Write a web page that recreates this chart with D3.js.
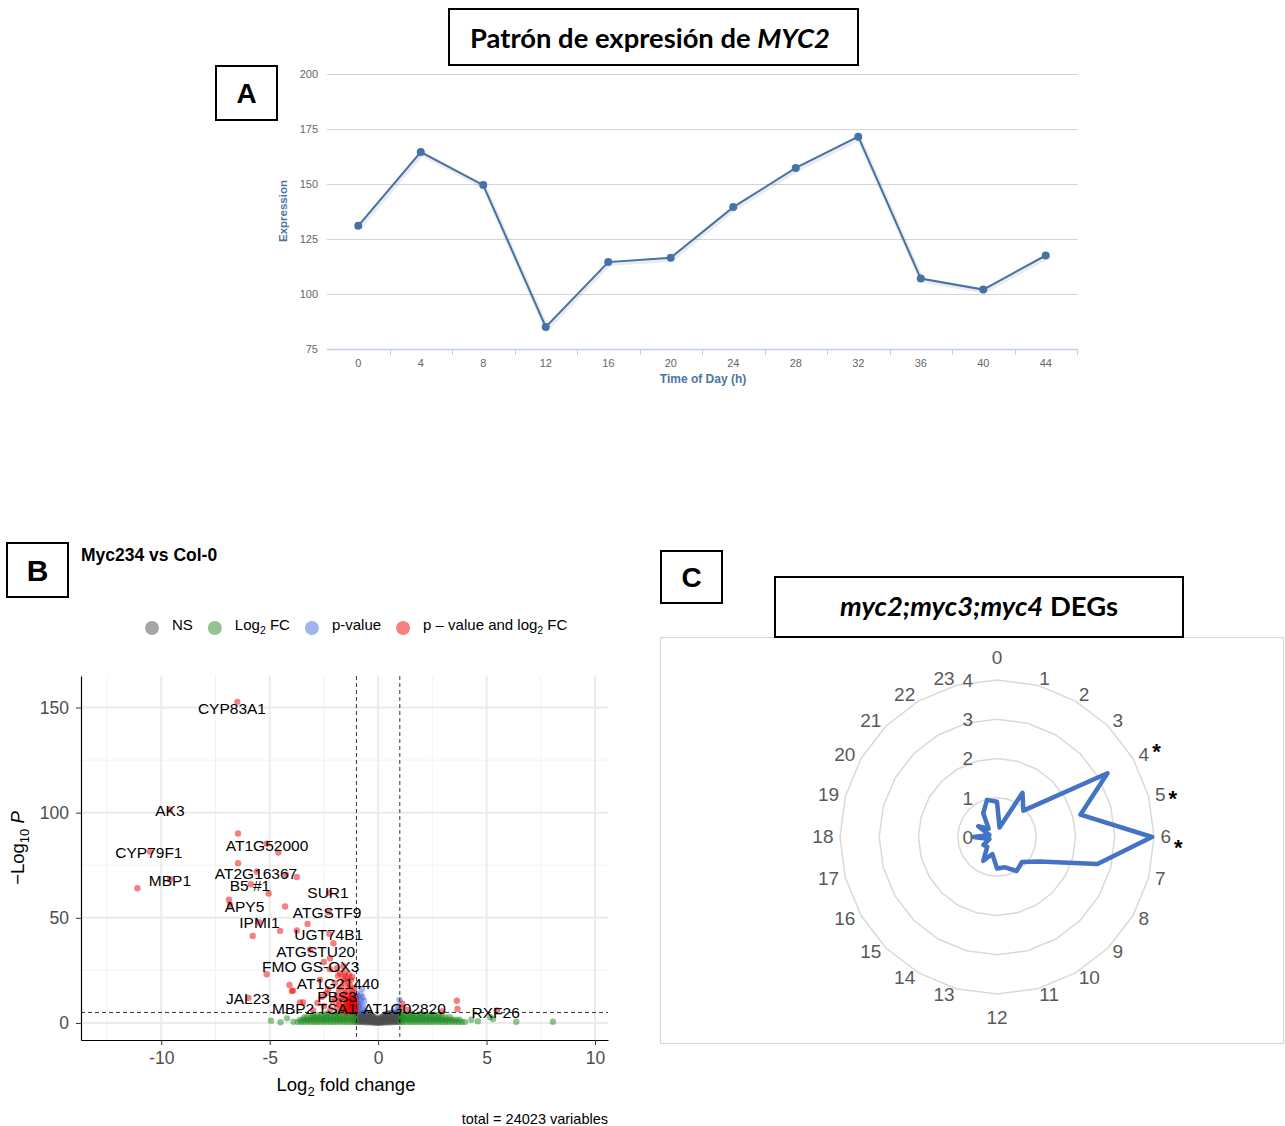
<!DOCTYPE html>
<html><head><meta charset="utf-8">
<script src="https://cdn.jsdelivr.net/npm/d3@7"></script>
<style>body{margin:0;background:#fff} svg{display:block}</style>
</head><body>
<script>
// ---------------- Panel A data ----------------
const hoursA = ["0","4","8","12","16","20","24","28","32","36","40","44"];
const expressionA = [131, 164.5, 149.5, 85, 114.5, 116.5, 139.5, 157.3, 171.5, 107, 102, 117.5];
const yTicksA = [75, 100, 125, 150, 175, 200];

// ---------------- Panel B data ----------------
const xTicksB = [-10, -5, 0, 5, 10];
const yTicksB = [0, 50, 100, 150];
const geneLabels = ["CYP83A1","AK3","CYP79F1","AT1G52000","MBP1","AT2G16367","B5 #1","SUR1","APY5","ATGSTF9","IPMI1","UGT74B1","ATGSTU20","FMO GS-OX3","AT1G21440","JAL23","PBS3","MBP2","TSA1","AT1G02820","RXF26"];
const geneLabelFC = [-6.74,-9.6,-10.57,-5.12,-9.6,-5.63,-5.91,-2.31,-6.16,-2.35,-5.47,-2.28,-2.88,-3.11,-1.85,-6.0,-1.89,-3.92,-1.89,1.22,5.42];
const geneLabelP  = [149.5,101,81,84.4,67.6,71.2,65.2,61.9,55.2,52.4,47.9,41.9,34,27.1,18.6,11.7,12.4,6.7,6.7,7.1,5.0];
const redPoints = [
[-6.49,152.7],[-9.6,101.4],[-6.46,90.1],[-5.14,85.2],[-4.6,81.1],[-10.52,81.6],[-6.46,76],[-5.6,72],
[-4.25,70.5],[-3.75,69.4],[-9.6,68.4],[-11.1,64.1],[-5.87,66],[-5.05,61.6],[-6.88,58.6],[-2.25,62],
[-6.83,56.2],[-4.29,55.4],[-2.29,52.7],[-5.48,47.8],[-3.25,47.1],[-5.78,41.4],[-4.52,43.8],[-3.75,44],
[-2.25,42.4],[-2.06,37.9],[-3.14,34.8],[-2.22,30.8],[-2.22,25.6],[-5.14,23.2],[-4.09,18.1],[-3.98,15.2],
[-2.68,20.5],[-5.98,11.9],[-3.6,9.7],[3.63,10.6],[3.66,6.7],[5.48,5.9],
[-1.75,23.5],[-1.55,24],[-1.35,23],[-1.2,22],[-1.6,21],[-1.4,20],[-2.0,19],[-1.3,18],[-1.7,17],
[-1.1,16.5],[-2.3,16],[-1.5,15],[-1.25,14],[-1.9,13.5],[-1.05,13],[-1.6,12.5],[-2.6,12.5],[-1.35,11.5],
[-1.15,11],[-1.8,10.5],[-2.1,10],[-1.45,10],[-1.1,9.5],[-1.25,9],[-1.6,8.5],[-1.05,8],[-1.35,7.5],
[-1.9,7.5],[-1.15,7],[-1.5,6.5],[-1.05,6],[-1.3,6],[-1.7,5.8],[-2.2,6.5],[-1.2,5.3],[-2.5,8],[-3.0,6],
[-2.8,9.5],[-3.46,9.7],[-3.92,15.4],[-2.4,14],[-1.9,26],[-1.6,27],[-2.5,29],[-1.45,8.2],[-1.2,12.2],
[1.12,9],[1.35,6.3],[2.95,5.5],[1.1,7.2],
[-1.1,5.5],[-1.2,6.5],[-1.05,7.2],[-1.3,8.5],[-1.15,9.8],[-1.4,9.2],[-1.1,10.5],[-1.25,11.8],[-1.5,11],
[-1.35,13],[-1.7,12],[-1.55,14],[-1.2,15.5],[-1.8,16],[-1.4,17],[-1.6,19],[-1.25,20.5],[-1.5,22],
[-1.85,22.5],[-1.1,6.4],[-1.6,7.2],[-1.8,8.8],[-2.0,11.5],[-1.05,11.8],[-1.25,7.8],[-1.4,5.6],[-1.15,8.6],
[-1.55,5.4],[-1.3,10.2],[-1.02,9.2]
];
const bluePoints = [
[-0.98,14],[-0.9,12.5],[-0.8,11],[-0.95,10],[-0.85,9],[-0.7,8],[-0.9,7.5],[-0.75,6.5],[-0.95,6],
[-0.6,5.5],[-0.85,5.3],[-0.8,13.5],[-0.75,16.2],[-0.65,10.5],[-0.92,8.4],[-0.72,12.2],[-0.98,11.6],
[0.99,11],[0.9,8],[0.95,6.5],[0.7,5.5]
];
const greenPoints = [
[-4.94,1.1],[-4.2,2.2],[-3.9,0.6],[-4.5,0.4],[5.17,2.7],[5.3,1.9],[6.37,0.6],[8.06,0.6],[4.3,1.5],[4.6,0.8],
[-2.35,4.6],[-1.9,4.8],[-1.45,4.7],[-1.1,4.8],[1.1,4.8],[1.5,4.6],[2.0,4.5]
];
const greenBandLevels = [0.5, 1.6, 2.7, 3.8];
const greenBandFC = [
[-3.7,-3.55,-3.4,-3.25,-3.1,-2.95,-2.8,-2.65,-2.5,-2.35,-2.2,-2.05,-1.9,-1.75,-1.6,-1.45,-1.3,-1.15,-1.05,
  1.05,1.15,1.3,1.45,1.6,1.75,1.9,2.05,2.2,2.35,2.5,2.65,2.8,2.95,3.1,3.25,3.4,3.55,3.7,3.85,4.0],
[-3.6,-3.45,-3.3,-3.15,-3.0,-2.85,-2.7,-2.55,-2.4,-2.25,-2.1,-1.95,-1.8,-1.65,-1.5,-1.35,-1.2,-1.05,
  1.05,1.2,1.35,1.5,1.65,1.8,1.95,2.1,2.25,2.4,2.55,2.7,2.85,3.0,3.15,3.3,3.45,3.6,3.75],
[-3.4,-3.25,-3.1,-2.95,-2.8,-2.65,-2.5,-2.35,-2.2,-2.05,-1.9,-1.75,-1.6,-1.45,-1.3,-1.15,-1.05,
  1.05,1.15,1.3,1.45,1.6,1.75,1.9,2.05,2.2,2.35,2.5,2.65,2.8,2.95,3.1,3.3],
[-3.0,-2.8,-2.6,-2.4,-2.2,-2.0,-1.8,-1.6,-1.4,-1.2,-1.05,
  1.05,1.2,1.4,1.6,1.8,2.0,2.2,2.4,2.6,2.8]
];
const grayPoints = [
[-0.95,0.5],[-0.95,2.0],[-0.95,3.5],[-0.95,4.8],[-0.85,0.5],[-0.85,2.0],[-0.85,3.5],[-0.85,4.8],
[-0.75,0.5],[-0.75,2.0],[-0.75,3.4],[-0.75,4.7],[-0.65,0.4],[-0.65,1.8],[-0.65,3.2],[-0.65,4.7],
[-0.55,0.4],[-0.55,1.7],[-0.55,3.0],[-0.55,4.6],[-0.45,0.3],[-0.45,1.5],[-0.45,2.8],[-0.45,4.4],
[-0.35,0.3],[-0.35,1.3],[-0.35,2.6],[-0.35,4.0],[-0.25,0.2],[-0.25,1.0],[-0.25,2.2],[-0.25,3.4],
[-0.15,0.2],[-0.15,0.8],[-0.15,1.8],[-0.15,2.8],[-0.05,0.1],[-0.05,1.0],[-0.05,2.2],[0.05,0.1],[0.05,1.0],[0.05,2.3],
[0.15,0.2],[0.15,0.9],[0.15,1.9],[0.15,2.9],[0.25,0.2],[0.25,1.0],[0.25,2.2],[0.25,3.5],
[0.35,0.3],[0.35,1.3],[0.35,2.6],[0.35,4.0],[0.45,0.3],[0.45,1.6],[0.45,2.8],[0.45,4.4],
[0.55,0.4],[0.55,1.7],[0.55,3.0],[0.55,4.6],[0.65,0.4],[0.65,1.9],[0.65,3.2],[0.65,4.7],
[0.75,0.5],[0.75,2.0],[0.75,3.4],[0.75,4.7],[0.85,0.5],[0.85,2.0],[0.85,3.5],[0.85,4.8],
[0.95,0.5],[0.95,2.0],[0.95,3.6],[0.95,4.9],
[-0.9,1.2],[-0.9,2.7],[-0.9,4.1],[-0.8,1.2],[-0.8,2.7],[-0.8,4.1],[-0.7,1.1],[-0.7,2.6],[-0.7,4.0],
[-0.6,1.0],[-0.6,2.4],[-0.6,3.9],[-0.5,0.9],[-0.5,2.1],[-0.5,3.7],[-0.4,0.8],[-0.4,1.8],[-0.4,3.3],
[-0.3,0.7],[-0.3,1.5],[-0.3,2.9],[-0.2,0.6],[-0.2,1.4],[-0.2,2.5],[-0.1,0.4],[-0.1,1.5],[0,0.3],[0,1.6],
[0.1,0.4],[0.1,1.5],[0.2,0.6],[0.2,1.4],[0.2,2.5],[0.3,0.7],[0.3,1.6],[0.3,2.9],[0.4,0.8],[0.4,1.9],[0.4,3.3],
[0.5,0.9],[0.5,2.1],[0.5,3.7],[0.6,1.0],[0.6,2.4],[0.6,3.9],[0.7,1.1],[0.7,2.6],[0.7,4.0],
[0.8,1.2],[0.8,2.7],[0.8,4.1],[0.9,1.2],[0.9,2.8],[0.9,4.2]
];
const fcCutoff = 1;
const pCutoff = 5;

// ---------------- Panel C data ----------------
const radarHours = ["0","1","2","3","4","5","6","7","8","9","10","11","12","13","14","15","16","17","18","19","20","21","22","23"];
const radarValues = [0.9, 0.25, 1.3, 0.95, 3.25, 2.2, 3.95, 2.65, 1.25, 0.9, 1.0, 0.8, 0.8, 0.45, 0.7, 0.35, 0.4, 0.2, 0.6, 0.2, 0.55, 0.3, 0.7, 0.98];
const radarRings = [0, 1, 2, 3, 4];
const starredHours = ["4","5","6"];

// =====================================================
const W = 1285, H = 1126;
const svg = d3.select("body").append("svg").attr("width", W).attr("height", H);
svg.append("rect").attr("width", W).attr("height", H).attr("fill", "#fff");

function fitWidth(sel, target) {
  const w = sel.node().getComputedTextLength();
  const x = +sel.attr("x");
  sel.attr("transform", `translate(${x},0) scale(${target / w},1) translate(${-x},0)`);
}
function panelBox(x, y, w, h, letter, size) {
  svg.append("rect").attr("x", x).attr("y", y).attr("width", w).attr("height", h)
    .attr("fill", "#fff").attr("stroke", "#000").attr("stroke-width", 2);
  svg.append("text").attr("x", x + w / 2).attr("y", y + h / 2).attr("dy", "0.36em")
    .attr("text-anchor", "middle").attr("font-family", "Liberation Sans, Arial, sans-serif")
    .attr("font-weight", "bold").attr("font-size", size).attr("fill", "#000").text(letter);
}

// ---------------- Panel A ----------------
{
  const g = svg.append("g");
  const fontA = "Liberation Sans, Arial, sans-serif";
  const x = d3.scaleBand().domain(hoursA).range([327, 1077]);
  const y = d3.scaleLinear().domain([75, 200]).range([349, 74]);
  g.selectAll(".gridA").data(yTicksA.slice(1)).join("line")
    .attr("x1", 327).attr("x2", 1078).attr("y1", d => Math.round(y(d)) + 0.5).attr("y2", d => Math.round(y(d)) + 0.5)
    .attr("stroke", "#d4d4d4").attr("stroke-width", 1);
  g.append("line").attr("x1", 327).attr("x2", 1078).attr("y1", 349.5).attr("y2", 349.5)
    .attr("stroke", "#C0D0E0").attr("stroke-width", 1.5);
  const bounds = hoursA.map(h => x(h)).concat([x.range()[1]]);
  g.selectAll(".tickA").data(bounds.slice(1)).join("line")
    .attr("x1", d => Math.round(d) + 0.5).attr("x2", d => Math.round(d) + 0.5).attr("y1", 349).attr("y2", 355)
    .attr("stroke", "#C0D0E0");
  g.selectAll(".xlA").data(hoursA).join("text")
    .attr("x", d => x(d) + x.bandwidth() / 2).attr("y", 363).attr("dy", "0.35em")
    .attr("text-anchor", "middle").attr("font-family", fontA).attr("font-size", 11).attr("fill", "#666").text(d => d);
  g.selectAll(".ylA").data(yTicksA).join("text")
    .attr("x", 318).attr("y", d => y(d)).attr("dy", "0.35em")
    .attr("text-anchor", "end").attr("font-family", fontA).attr("font-size", 11).attr("fill", "#666").text(d => d);
  g.append("text").attr("transform", "translate(287,211) rotate(-90)").attr("text-anchor", "middle")
    .attr("font-family", fontA).attr("font-weight", "bold").attr("font-size", 11.5).attr("fill", "#4d759e").text("Expression");
  g.append("text").attr("x", 703).attr("y", 379).attr("dy", "0.35em").attr("text-anchor", "middle")
    .attr("font-family", fontA).attr("font-weight", "bold").attr("font-size", 12).attr("fill", "#4d759e").text("Time of Day (h)");
  const pts = hoursA.map((h, i) => ({h, v: expressionA[i]}));
  const line = d3.line().x(d => x(d.h) + x.bandwidth() / 2).y(d => y(d.v));
  g.append("path").attr("d", line(pts)).attr("fill", "none").attr("stroke", "#000").attr("stroke-opacity", 0.08)
    .attr("stroke-width", 5).attr("transform", "translate(1,1.5)");
  g.append("path").attr("d", line(pts)).attr("fill", "none").attr("stroke", "#4572A7").attr("stroke-width", 2);
  g.selectAll(".mkA").data(pts).join("circle")
    .attr("cx", d => x(d.h) + x.bandwidth() / 2).attr("cy", d => y(d.v)).attr("r", 4).attr("fill", "#4572A7");

  svg.append("rect").attr("x", 449).attr("y", 9).attr("width", 409).attr("height", 56)
    .attr("fill", "#fff").attr("stroke", "#000").attr("stroke-width", 2);
  const t = svg.append("text").attr("x", 650).attr("y", 39).attr("dy", "0.35em").attr("text-anchor", "middle")
    .attr("font-family", "Lato, Open Sans, sans-serif").attr("font-weight", "bold").attr("font-size", 27).attr("fill", "#000");
  t.append("tspan").text("Patrón de expresión de ");
  t.append("tspan").attr("font-style", "italic").text("MYC2");
  fitWidth(t, 360);
  panelBox(216, 66, 61, 54, "A", 28);
}

// ---------------- Panel B ----------------
{
  const fontB = "Liberation Sans, Arial, Helvetica, sans-serif";
  const g = svg.append("g");
  const x = d3.scaleLinear().domain([-13.7, 10.6]).range([81, 608]);
  const y = d3.scaleLinear().domain([-8.1, 165]).range([1040, 676]);
  const minorX = [-12.5, -7.5, -2.5, 2.5, 7.5];
  const minorY = [25, 75, 125];
  g.selectAll(".mgx").data(minorX).join("line").attr("x1", d => x(d)).attr("x2", d => x(d)).attr("y1", 676).attr("y2", 1040)
    .attr("stroke", "#f2f2f2").attr("stroke-width", 1);
  g.selectAll(".mgy").data(minorY).join("line").attr("y1", d => y(d)).attr("y2", d => y(d)).attr("x1", 81).attr("x2", 608)
    .attr("stroke", "#f2f2f2").attr("stroke-width", 1);
  g.selectAll(".Mgx").data(xTicksB).join("line").attr("x1", d => x(d)).attr("x2", d => x(d)).attr("y1", 676).attr("y2", 1040)
    .attr("stroke", "#ebebeb").attr("stroke-width", 2);
  g.selectAll(".Mgy").data(yTicksB).join("line").attr("y1", d => y(d)).attr("y2", d => y(d)).attr("x1", 81).attr("x2", 608)
    .attr("stroke", "#ebebeb").attr("stroke-width", 2);

  const r = 3.2;
  const drawPts = (data, color) => g.append("g").selectAll("circle").data(data).join("circle")
    .attr("cx", d => x(d[0])).attr("cy", d => y(d[1])).attr("r", r).attr("fill", color).attr("fill-opacity", 0.5);
  const greenAll = greenPoints.concat(...greenBandFC.map((row, k) => row.map(v => [v, greenBandLevels[k]])));
  drawPts(grayPoints, "#4D4D4D");
  drawPts(greenAll, "#228B22");
  drawPts(bluePoints, "#4169E1");
  drawPts(redPoints, "#EE0000");

  [-fcCutoff, fcCutoff].forEach(v => g.append("line").attr("x1", x(v)).attr("x2", x(v)).attr("y1", 676).attr("y2", 1040)
    .attr("stroke", "#000").attr("stroke-width", 0.8).attr("stroke-dasharray", "4,3"));
  g.append("line").attr("x1", 81).attr("x2", 608).attr("y1", y(pCutoff)).attr("y2", y(pCutoff))
    .attr("stroke", "#000").attr("stroke-width", 0.8).attr("stroke-dasharray", "4,3");

  g.selectAll(".gl").data(geneLabels).join("text")
    .attr("x", (d, i) => x(geneLabelFC[i])).attr("y", (d, i) => y(geneLabelP[i])).attr("dy", "0.36em")
    .attr("text-anchor", "middle").attr("font-family", fontB).attr("font-size", 15.5).attr("fill", "#000").text(d => d);

  const ax = g.append("g").attr("transform", "translate(0,1040)")
    .call(d3.axisBottom(x).tickValues(xTicksB).tickFormat(d => String(d)).tickSize(5).tickSizeOuter(0).tickPadding(7));
  const ay = g.append("g").attr("transform", "translate(81,0)")
    .call(d3.axisLeft(y).tickValues(yTicksB).tickFormat(d => String(d)).tickSize(5).tickSizeOuter(0).tickPadding(7));
  [ax, ay].forEach(a => {
    a.select(".domain").attr("stroke", "#000").attr("stroke-width", 1.2);
    a.selectAll(".tick line").attr("stroke", "#333").attr("stroke-width", 1);
    a.selectAll(".tick text").attr("font-family", fontB).attr("font-size", 17.5).attr("fill", "#4d4d4d");
  });

  const xt = g.append("text").attr("x", 346).attr("y", 1091).attr("text-anchor", "middle")
    .attr("font-family", fontB).attr("font-size", 18.5).attr("fill", "#000");
  xt.append("tspan").text("Log");
  xt.append("tspan").attr("font-size", 13).attr("dy", 5).text("2");
  xt.append("tspan").attr("dy", -5).text(" fold change");
  const yt = g.append("text").attr("transform", "translate(24,848) rotate(-90)").attr("text-anchor", "middle")
    .attr("font-family", fontB).attr("font-size", 18.5).attr("fill", "#000");
  yt.append("tspan").text("\u2212Log");
  yt.append("tspan").attr("font-size", 13).attr("dy", 5).text("10");
  yt.append("tspan").attr("dy", -5).text(" ");
  yt.append("tspan").attr("font-style", "italic").text("P");

  g.append("text").attr("x", 608).attr("y", 1124).attr("text-anchor", "end").attr("font-family", fontB)
    .attr("font-size", 14.5).attr("fill", "#000").text("total = 24023 variables");

  svg.append("text").attr("x", 81).attr("y", 561).attr("font-family", fontB).attr("font-weight", "bold")
    .attr("font-size", 17.5).attr("fill", "#000").text("Myc234 vs Col-0");

  const legend = [
    {color: "#4D4D4D", parts: [["NS"]]},
    {color: "#228B22", parts: [["Log"], ["2", "sub"], [" FC"]]},
    {color: "#4169E1", parts: [["p-value"]]},
    {color: "#EE0000", parts: [["p \u2013 value and log"], ["2", "sub"], [" FC"]]}
  ];
  let lx = 152;
  legend.forEach(item => {
    g.append("circle").attr("cx", lx).attr("cy", 628).attr("r", 7).attr("fill", item.color).attr("fill-opacity", 0.5);
    const t = g.append("text").attr("x", lx + 20).attr("y", 634).attr("font-family", fontB).attr("font-size", 15).attr("fill", "#000");
    item.parts.forEach(p => {
      if (p[1] === "sub") t.append("tspan").attr("font-size", 10.5).attr("dy", 4).text(p[0]);
      else t.append("tspan").attr("dy", t.selectAll("tspan").size() ? -4 : 0).text(p[0]);
    });
    lx = lx + 20 + t.node().getComputedTextLength() + 22;
  });

  panelBox(7, 543, 61, 54, "B", 30);
}

// ---------------- Panel C ----------------
{
  const fontC = "Liberation Sans, Arial, sans-serif";
  svg.append("rect").attr("x", 660.5).attr("y", 637.5).attr("width", 623).attr("height", 406)
    .attr("fill", "#fff").attr("stroke", "#d9d9d9").attr("stroke-width", 1.2);
  const cx = 997, cy = 837, R = 157;
  const g = svg.append("g").attr("transform", `translate(${cx},${cy})`);
  const rScale = d3.scaleLinear().domain([0, 4]).range([0, R]);
  const n = radarHours.length;
  const ang = i => i * 2 * Math.PI / n;
  const ring = d3.lineRadial().angle((d, i) => ang(i)).radius(d => rScale(d)).curve(d3.curveLinearClosed);
  radarRings.slice(1).forEach(v => {
    g.append("path").attr("d", ring(radarHours.map(() => v))).attr("fill", "none")
      .attr("stroke", "#d9d9d9").attr("stroke-width", 1.5);
  });
  g.append("path").attr("d", ring(radarValues)).attr("fill", "none").attr("stroke", "#4472C4")
    .attr("stroke-width", 4.5).attr("stroke-linejoin", "round");
  g.selectAll(".vl").data(radarRings).join("text")
    .attr("x", -24).attr("y", d => -rScale(d)).attr("dy", "0.36em").attr("text-anchor", "end")
    .attr("font-family", fontC).attr("font-size", 19).attr("fill", "#595959").text(d => d);
  const lab = g.selectAll(".cl").data(radarHours).join("text")
    .attr("text-anchor", "middle").attr("dy", "0.36em")
    .attr("font-family", fontC).attr("font-size", 19).attr("fill", "#595959").text(d => d);
  const base = R + 6.5;
  lab.each(function(d, i) {
    const w = this.getComputedTextLength();
    const s = Math.sin(ang(i)), c = Math.cos(ang(i));
    let px, py;
    if (Math.abs(s) < 1e-6) { px = 0; py = -c * (base + 16.5); }
    else { px = s * base + Math.sign(s) * w / 2; py = -c * base - 1; }
    d3.select(this).attr("x", px).attr("y", py);
    if (starredHours.includes(d)) {
      const starDy = {"4": -8, "5": -1, "6": 6}[d];
      g.append("text").attr("x", px + w / 2 + 3).attr("y", py + starDy).attr("dy", "0.6em")
        .attr("font-family", fontC).attr("font-weight", "bold").attr("font-size", 22).attr("fill", "#000").text("*");
    }
  });

  svg.append("rect").attr("x", 775).attr("y", 577).attr("width", 408).attr("height", 60)
    .attr("fill", "#fff").attr("stroke", "#000").attr("stroke-width", 2);
  const t = svg.append("text").attr("x", 979).attr("y", 607).attr("dy", "0.35em").attr("text-anchor", "middle")
    .attr("font-family", "Lato, Open Sans, sans-serif").attr("font-weight", "bold").attr("font-size", 26).attr("fill", "#000");
  t.append("tspan").attr("font-style", "italic").text("myc2;myc3;myc4");
  t.append("tspan").text(" DEGs");
  fitWidth(t, 278);
  panelBox(661, 551, 61, 52, "C", 28);
}
</script>
</body></html>
